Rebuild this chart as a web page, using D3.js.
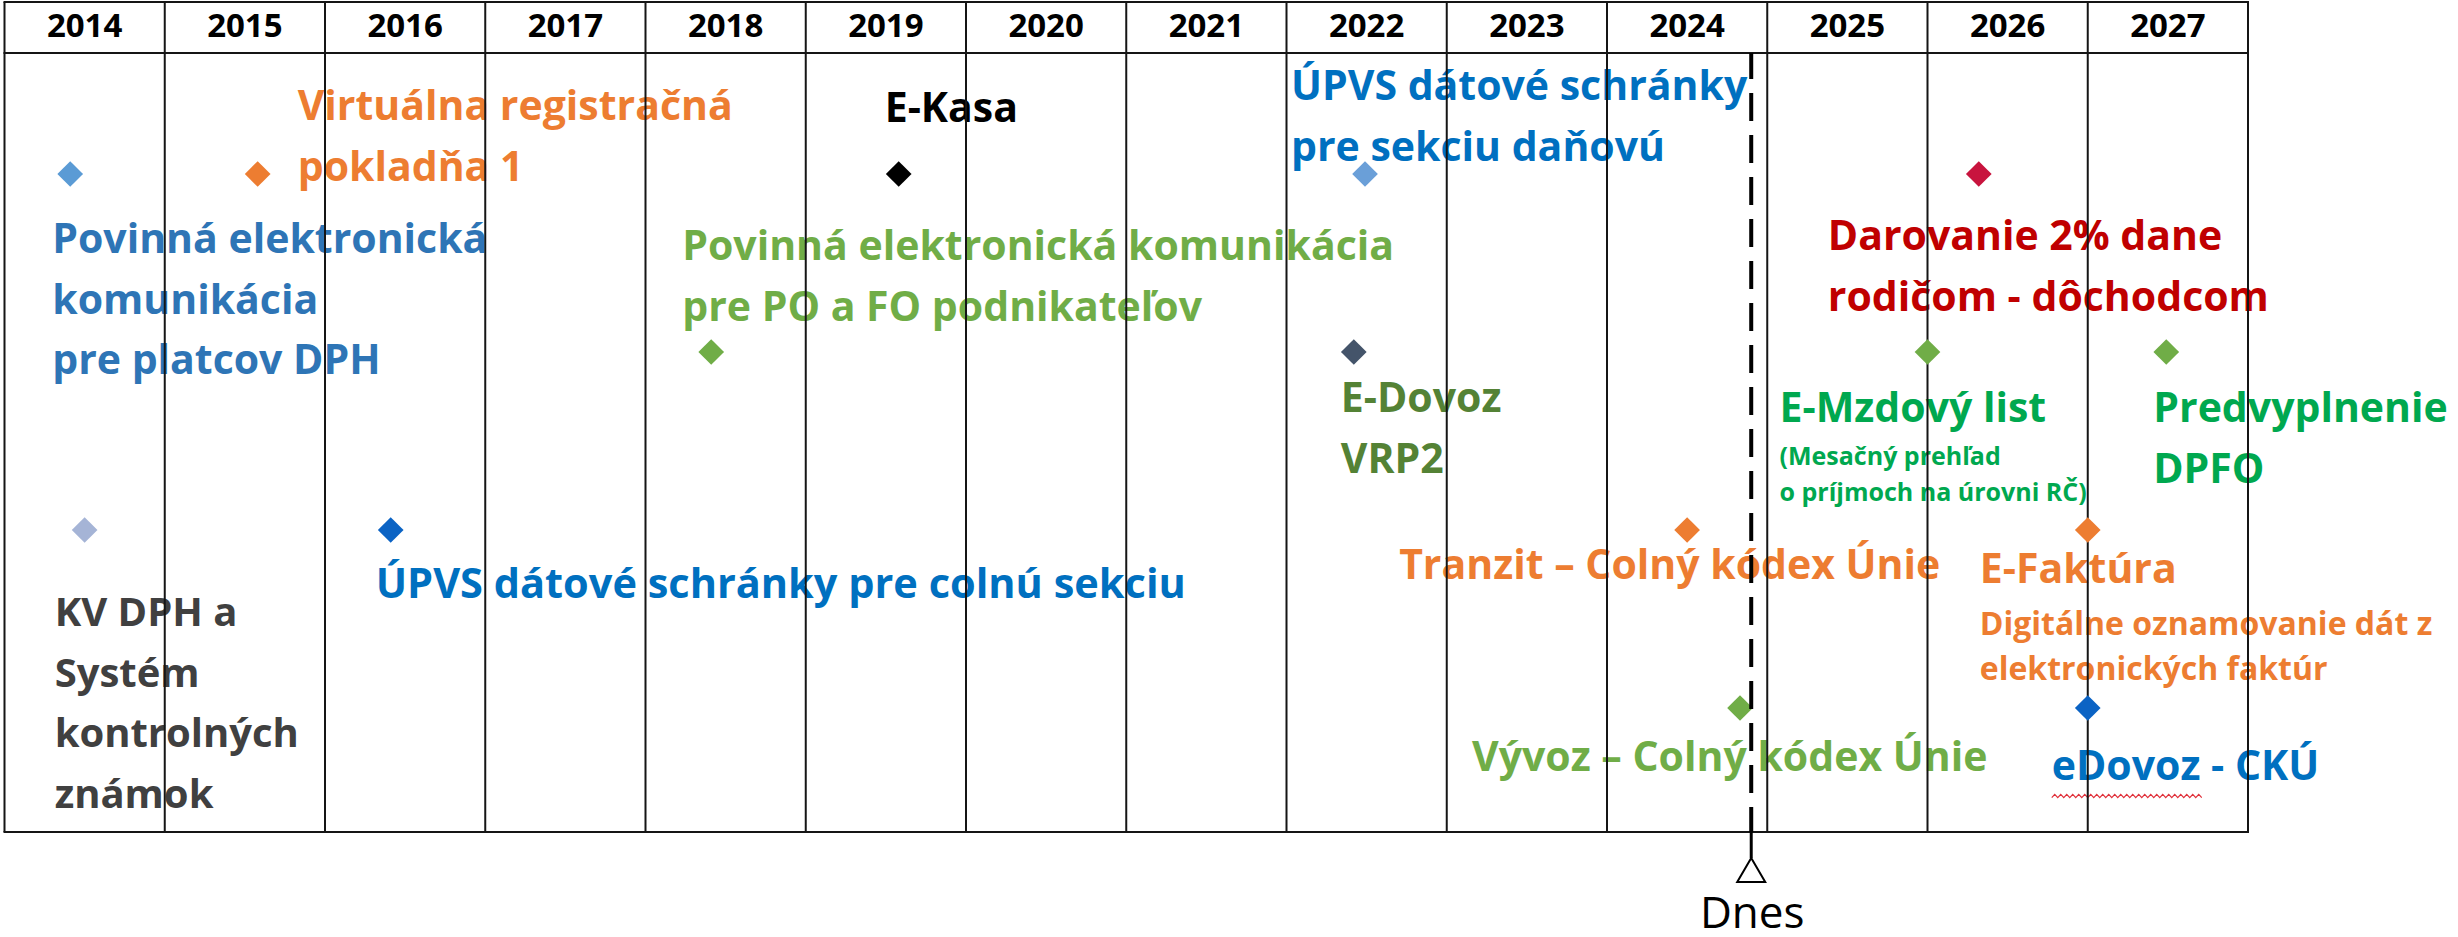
<!DOCTYPE html>
<html>
<head>
<meta charset="utf-8">
<script src="https://cdn.jsdelivr.net/npm/d3@7"></script>
<style>
  html, body { margin: 0; padding: 0; background: #fff; }
  svg { display: block; font-family: "Open Sans", sans-serif; }
</style>
</head>
<body>
<svg id="timeline" width="2458" height="937"></svg>
<script>
// Columns of the timeline
const years = [2014, 2015, 2016, 2017, 2018, 2019, 2020, 2021, 2022, 2023, 2024, 2025, 2026, 2027];

// Milestones: date as a fractional year, lane = row on the board (0 = top)
const milestoneNames = [
    "Povinná elektronická komunikácia pre platcov DPH",
    "Virtuálna registračná pokladňa 1",
    "E-Kasa",
    "ÚPVS dátové schránky pre sekciu daňovú",
    "Darovanie 2% dane rodičom - dôchodcom",
    "Povinná elektronická komunikácia pre PO a FO podnikateľov",
    "E-Dovoz VRP2",
    "E-Mzdový list",
    "Predvyplnenie DPFO",
    "KV DPH a Systém kontrolných známok",
    "ÚPVS dátové schránky pre colnú sekciu",
    "Tranzit – Colný kódex Únie",
    "E-Faktúra",
    "Vývoz – Colný kódex Únie",
    "eDovoz - CKÚ"
];
const milestoneDates = [2014.41, 2015.58, 2019.58, 2022.49, 2026.32, 2018.41, 2022.42, 2026.0,
    2027.49, 2014.5, 2016.41, 2024.5, 2027.0, 2024.83, 2027.0];
const milestoneLanes = [0, 0, 0, 0, 0, 1, 1, 1, 1, 2, 2, 2, 2, 3, 3];
const today = 2024.9;

// Label text, broken into lines as on the slide
const labelLines = [
    ["Povinná elektronická", "komunikácia", "pre platcov DPH"],
    ["Virtuálna registračná", "pokladňa 1"],
    ["E-Kasa"],
    ["ÚPVS dátové schránky", "pre sekciu daňovú"],
    ["Darovanie 2% dane", "rodičom - dôchodcom"],
    ["Povinná elektronická komunikácia", "pre PO a FO podnikateľov"],
    ["E-Dovoz", "VRP2"],
    ["E-Mzdový list"],
    ["Predvyplnenie", "DPFO"],
    ["KV DPH a", "Systém", "kontrolných", "známok"],
    ["ÚPVS dátové schránky pre colnú sekciu"],
    ["Tranzit – Colný kódex Únie"],
    ["E-Faktúra"],
    ["Vývoz – Colný kódex Únie"],
    ["eDovoz - CKÚ"]
];
const noteLines = [[], [], [], [], [], [], [], ["(Mesačný prehľad", "o príjmoch na úrovni RČ)"],
    [], [], [], [], ["Digitálne oznamovanie dát z", "elektronických faktúr"], [], []];

// ---- styling / placement (kept apart from the data) ----
const markerColors = ["#5b9bd5", "#ed7d31", "#000000", "#6a9fd8", "#c8143e", "#70ad47", "#44546a",
    "#70ad47", "#70ad47", "#a5b4d6", "#0b63c4", "#ed7d31", "#ed7d31", "#70ad47", "#0b63c4"];
const labelColors = ["#2e75b6", "#ed7d31", "#000000", "#0070c0", "#c00000", "#70ad47", "#548235",
    "#00a84f", "#00a84f", "#404040", "#0070c0", "#ed7d31", "#ed7d31", "#70ad47", "#0070c0"];
// first baseline of each label relative to its marker, px
const labelOffsets = [[-18, 79], [40, -54], [-14, -52], [-74, -74], [-151, 76], [-29, -92], [-13, 60],
    [-148, 70], [-13, 70], [-30, 96], [-15, 68], [-288, 49], [-108, 53], [-268, 63], [-36, 72]];
const labelSizes = [41, 41, 41, 41, 41, 41, 41, 41, 41, 40, 41.5, 41, 41, 41, 41];
const noteSizes = [0, 0, 0, 0, 0, 0, 0, 25, 0, 0, 0, 0, 32, 0, 0];

const lineStep = 60.5;
const boardTop = 2, headerBottom = 53, boardBottom = 832;

const svg = d3.select("#timeline");

const x = d3.scaleLinear()
    .domain([years[0], years[years.length - 1] + 1])
    .range([4.5, 2248]);
const lane = d3.scaleLinear().domain([0, 3]).range([174, 708]);

// Labels first, the table lines are drawn over them like on the slide
const labels = svg.append("g")
    .attr("font-weight", 700)
    .selectAll("text")
    .data(milestoneNames)
    .join("text")
    .attr("fill", (d, i) => labelColors[i])
    .attr("font-size", (d, i) => labelSizes[i])
    .attr("transform", (d, i) => {
        const px = x(milestoneDates[i]) + labelOffsets[i][0];
        const py = lane(milestoneLanes[i]) + labelOffsets[i][1];
        return "translate(" + px + "," + py + ")";
    });

labels.each(function(d, i) {
    const t = d3.select(this);
    labelLines[i].forEach((line, j) => {
        t.append("tspan").attr("x", 0).attr("y", j * lineStep).text(line);
    });
    const last = (labelLines[i].length - 1) * lineStep;
    noteLines[i].forEach((line, j) => {
        t.append("tspan")
            .attr("x", 0)
            .attr("y", last + 12 + noteSizes[i] * 1.25 + j * noteSizes[i] * 1.42)
            .attr("font-size", noteSizes[i])
            .text(line);
    });
});

// spell-check squiggle under "eDovoz"
labels.filter(d => d === "eDovoz - CKÚ").each(function(d) {
    const idx = milestoneNames.indexOf(d);
    const w = this.getSubStringLength(0, 6);
    const x0 = x(milestoneDates[idx]) + labelOffsets[idx][0];
    const y0 = lane(milestoneLanes[idx]) + labelOffsets[idx][1] + 16;
    const pts = d3.range(0, w + 3, 3).map((v, k) => [x0 + v, y0 + (k % 2 ? -1.6 : 1.6)]);
    svg.append("path")
        .attr("d", d3.line()(pts))
        .attr("fill", "none")
        .attr("stroke", "#e0303a")
        .attr("stroke-width", 1.2);
});

// Table: year columns and header row
const grid = svg.append("g").attr("stroke", "#151515").attr("stroke-width", 2);
grid.append("g").selectAll("line")
    .data(d3.range(years[0], years[years.length - 1] + 2))
    .join("line")
    .attr("x1", d => x(d)).attr("x2", d => x(d))
    .attr("y1", boardTop).attr("y2", boardBottom);
grid.append("g").selectAll("line")
    .data([boardTop, headerBottom, boardBottom])
    .join("line")
    .attr("x1", x.range()[0] - 1).attr("x2", x.range()[1] + 1)
    .attr("y1", d => d).attr("y2", d => d);

svg.append("g")
    .attr("font-weight", 700)
    .attr("font-size", 33)
    .attr("text-anchor", "middle")
    .selectAll("text")
    .data(years)
    .join("text")
    .attr("x", d => x(d + 0.5))
    .attr("y", 37)
    .attr("fill", "#000")
    .text(d => d);

// Diamond markers
const diamond = d3.symbol().type(d3.symbolSquare).size(330);
svg.append("g").selectAll("path")
    .data(milestoneNames)
    .join("path")
    .attr("transform", (d, i) => "translate(" + x(milestoneDates[i]) + "," + lane(milestoneLanes[i]) + ") rotate(45)")
    .attr("d", diamond)
    .attr("fill", (d, i) => markerColors[i]);

// "Dnes" (today) marker
const tx = x(today);
const now = svg.append("g");
now.append("line")
    .attr("x1", tx).attr("x2", tx)
    .attr("y1", headerBottom).attr("y2", boardBottom)
    .attr("stroke", "#000")
    .attr("stroke-width", 4)
    .attr("stroke-dasharray", "28,14")
    .attr("stroke-dashoffset", 2);
now.append("line")
    .attr("x1", tx).attr("x2", tx)
    .attr("y1", boardBottom).attr("y2", 858)
    .attr("stroke", "#000")
    .attr("stroke-width", 3);
now.append("path")
    .attr("d", "M" + tx + ",858 L" + (tx + 14) + ",882 L" + (tx - 14) + ",882 Z")
    .attr("fill", "#fff")
    .attr("stroke", "#000")
    .attr("stroke-width", 2);
now.append("text")
    .attr("x", tx + 1)
    .attr("y", 928)
    .attr("text-anchor", "middle")
    .attr("font-size", 44)
    .attr("fill", "#000")
    .text("Dnes");
</script>
</body>
</html>
